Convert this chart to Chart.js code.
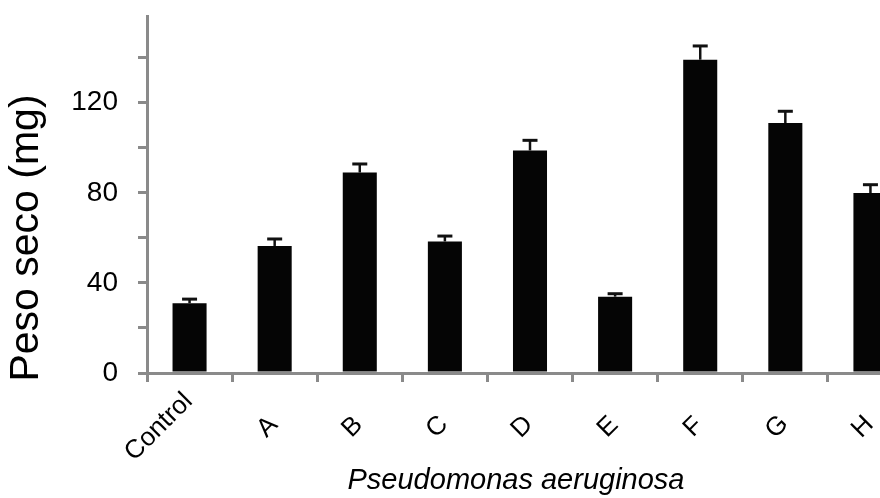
<!DOCTYPE html>
<html>
<head>
<meta charset="utf-8">
<title>Peso seco</title>
<script src="https://cdn.jsdelivr.net/npm/chart.js@4.4.1/dist/chart.umd.min.js"></script>
<style>
    html, body { margin: 0; padding: 0; background: #fff; overflow: hidden; }
    #wrap { width: 880px; height: 498px; overflow: hidden; position: relative; }
    canvas { display: block; }
</style>
</head>
<body>
<div id="wrap"><canvas id="pesoChart" width="916" height="498"></canvas></div>
<script>
const categories = ['Control', 'A', 'B', 'C', 'D', 'E', 'F', 'G', 'H'];
const pesoSeco = [31, 56.4, 89, 58.4, 98.8, 33.9, 139.1, 111, 79.9];
const errores = [1.8, 3.1, 3.8, 2.4, 4.5, 1.3, 6.1, 5.2, 3.7];
const yTickLabels = [0, 40, 80, 120];
const yTitle = 'Peso seco (mg)';
const xTitle = 'Pseudomonas aeruginosa';

const axisColor = '#8a8a8a';
const fontFamily = '"Liberation Sans", Arial, sans-serif';

// error bars on top of each bar, using the y scale
const errorBars = {
    id: 'errorBars',
    afterDatasetsDraw(chart) {
        const ctx = chart.ctx;
        const yScale = chart.scales.y;
        const meta = chart.getDatasetMeta(0);
        ctx.save();
        ctx.strokeStyle = '#111';
        meta.data.forEach((bar, i) => {
            const top = yScale.getPixelForValue(pesoSeco[i] + errores[i]);
            ctx.lineWidth = 2.5;
            ctx.beginPath();
            ctx.moveTo(bar.x, bar.y);
            ctx.lineTo(bar.x, top);
            ctx.stroke();
            ctx.lineWidth = 3;
            ctx.beginPath();
            ctx.moveTo(bar.x - 7.5, top);
            ctx.lineTo(bar.x + 7.5, top);
            ctx.stroke();
        });
        ctx.restore();
    }
};

// rotated category labels and the two axis titles
const axisText = {
    id: 'axisText',
    afterDraw(chart) {
        const ctx = chart.ctx;
        const area = chart.chartArea;
        const xScale = chart.scales.x;
        ctx.save();
        ctx.fillStyle = '#000';
        ctx.font = '26px ' + fontFamily;
        ctx.textAlign = 'center';
        ctx.textBaseline = 'middle';
        categories.forEach((label, i) => {
            const w = ctx.measureText(label).width;
            const cx = xScale.getPixelForValue(i) - 1 - (w / 2) * Math.SQRT1_2;
            ctx.save();
            ctx.translate(cx, area.bottom + 54);
            ctx.rotate(-Math.PI / 4);
            ctx.fillText(label, 0, 0);
            ctx.restore();
        });

        ctx.font = 'italic 29px ' + fontFamily;
        ctx.textBaseline = 'alphabetic';
        ctx.fillText(xTitle, area.left + 369, area.bottom + 116);

        ctx.translate(27, area.bottom - 135);
        ctx.rotate(-Math.PI / 2);
        ctx.font = '41px ' + fontFamily;
        ctx.textBaseline = 'middle';
        ctx.fillText(yTitle, 0, 0);
        ctx.restore();
    }
};

document.addEventListener('DOMContentLoaded', function() {
    const ctx = document.getElementById('pesoChart').getContext('2d');
    new Chart(ctx, {
        type: 'bar',
        data: {
            labels: categories,
            datasets: [{
                data: pesoSeco,
                backgroundColor: '#050505',
                borderWidth: 0,
                barPercentage: 0.4,
                categoryPercentage: 1
            }]
        },
        options: {
            responsive: false,
            animation: false,
            devicePixelRatio: 1,
            layout: {
                padding: { top: 16, right: 3, left: 0, bottom: 0 }
            },
            plugins: {
                legend: { display: false },
                tooltip: { enabled: false }
            },
            scales: {
                x: {
                    grid: {
                        offset: true,
                        drawOnChartArea: false,
                        tickLength: 9,
                        color: axisColor,
                        lineWidth: 3
                    },
                    border: { color: axisColor, width: 3 },
                    ticks: { display: false },
                    afterFit: function(scale) { scale.height = 125; }
                },
                y: {
                    min: 0,
                    max: 158.5,
                    grid: {
                        drawOnChartArea: false,
                        tickLength: 9,
                        color: axisColor,
                        lineWidth: 3
                    },
                    border: { color: axisColor, width: 3 },
                    ticks: {
                        stepSize: 20,
                        padding: 20,
                        color: '#000',
                        font: { family: fontFamily, size: 28 },
                        callback: function(value) {
                            return yTickLabels.includes(value) ? String(value) : '';
                        }
                    },
                    afterBuildTicks: function(scale) {
                        scale.ticks = scale.ticks.filter(t => t.value % 20 === 0);
                    },
                    afterFit: function(scale) {
                        scale.width = 147;
                        scale.paddingTop = 0;
                        scale.paddingBottom = 0;
                    }
                }
            }
        },
        plugins: [errorBars, axisText]
    });
});
</script>
</body>
</html>
